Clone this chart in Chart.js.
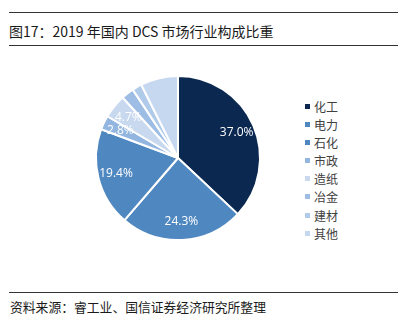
<!DOCTYPE html>
<html>
<head>
<meta charset="utf-8">
<script src="https://cdn.jsdelivr.net/npm/chart.js@4.4.1/dist/chart.umd.min.js"></script>
<style>
  html, body { margin: 0; padding: 0; background: #fff; }
  body { width: 412px; height: 328px; position: relative; overflow: hidden;
         font-family: "Noto Sans CJK SC", "Noto Sans", sans-serif; }
  .rule { position: absolute; left: 9px; width: 389px; height: 1px; background: #333; }
  #title { position: absolute; left: 9px; top: 21px; font-size: 14px; line-height: 20px; color: #1a1a1a; white-space: nowrap; }
  #source { position: absolute; left: 10px; top: 298px; font-size: 12.8px; line-height: 18px; color: #1a1a1a; white-space: nowrap; }
  #box { position: absolute; left: 0; top: 50px; width: 300px; height: 220px; }
  #legend { position: absolute; left: 305px; top: 98px; margin: 0; padding: 0; list-style: none; }
  #legend li { height: 18.1px; line-height: 18px; font-size: 12px; color: #404040; white-space: nowrap; }
  #legend span { display: inline-block; width: 5px; height: 5px; margin-right: 4px; vertical-align: 3px; }
</style>
</head>
<body>
<div class="rule" style="top:12px"></div>
<div id="title">图17：2019 年国内 DCS 市场行业构成比重</div>
<div class="rule" style="top:45px"></div>

<div id="box"><canvas id="pieChart"></canvas></div>
<ul id="legend"></ul>

<div class="rule" style="top:292px"></div>
<div id="source">资料来源：睿工业、国信证券经济研究所整理</div>

<script>
// 数据
const industries = ["化工", "电力", "石化", "市政", "造纸", "冶金", "建材", "其他"];
const shares = [37.0, 24.3, 19.4, 2.8, 4.7, 2.5, 1.9, 7.4];
const sliceColors = ["#0b2850", "#4f87c0", "#4f87c0", "#93b6e0", "#c8d9ef", "#9dbde4", "#b0cbea", "#c6d8ef"];
// 原图只给前五个扇区标了数值
const labelledCount = 5;

// HTML 图例
const legendEl = document.getElementById("legend");
industries.forEach((name, i) => {
    const li = document.createElement("li");
    li.innerHTML = '<span style="background:' + sliceColors[i] + '"></span>' + name;
    legendEl.appendChild(li);
});

// 扇区内百分比标签
const sliceLabels = {
    id: "sliceLabels",
    afterDatasetsDraw(chart) {
        const ctx = chart.ctx;
        const meta = chart.getDatasetMeta(0);
        ctx.save();
        ctx.font = '12px "Open Sans", sans-serif';
        ctx.fillStyle = "#ffffff";
        ctx.textAlign = "center";
        ctx.textBaseline = "middle";
        meta.data.forEach((arc, i) => {
            if (i >= labelledCount) return;
            const p = arc.getProps(["x", "y", "startAngle", "endAngle", "outerRadius"], true);
            const mid = (p.startAngle + p.endAngle) / 2;
            const r = p.outerRadius * 0.78;
            ctx.fillText(shares[i].toFixed(1) + "%", p.x + Math.cos(mid) * r, p.y + Math.sin(mid) * r);
        });
        ctx.restore();
    }
};

new Chart(document.getElementById("pieChart"), {
    type: "pie",
    data: {
        labels: industries,
        datasets: [{
            data: shares,
            backgroundColor: sliceColors,
            borderColor: "#ffffff",
            borderWidth: 2
        }]
    },
    options: {
        responsive: true,
        maintainAspectRatio: false,
        animation: false,
        layout: { padding: { left: 95, right: 39, top: 25, bottom: 29 } },
        plugins: {
            legend: { display: false },
            tooltip: { enabled: false }
        }
    },
    plugins: [sliceLabels]
});
</script>
</body>
</html>
